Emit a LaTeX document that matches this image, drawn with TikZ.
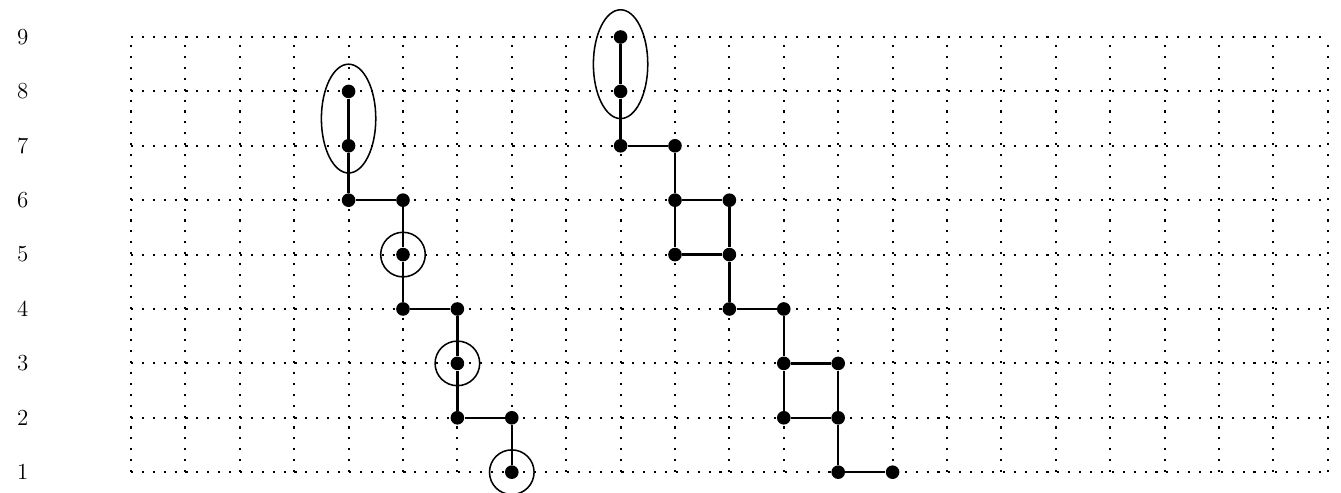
\documentclass[tikz,border=0pt]{standalone}
\usetikzlibrary{positioning}
\tikzset{
  gridline/.style={line width=1.1pt, dash pattern=on 1.1pt off 4.6pt},
  vertex/.style={circle, fill, inner sep=0pt, minimum size=0.25cm},
  edge/.style={line width=1.2pt},
  ring/.style={line width=0.8pt},
  rowlabel/.style={font=\large},
}
\begin{document}
\begin{tikzpicture}
  \useasboundingbox (-2.408,0.632) rectangle (22.243,9.68);

  % dotted grid and row numbers
  \foreach \y in {1,...,9} {
    \draw[gridline] (0,\y) -- (22,\y);
    \node[rowlabel] (row\y) at (-1.99,\y) {\y};
  }
  \foreach \x in {0,...,22}
    \draw[gridline] (\x,1) -- (\x,9);

  % vertices
  \foreach \x/\y in {4/8,4/7,4/6,5/6,5/5,5/4,6/4,6/3,6/2,7/2,7/1,
                     9/9,9/8,9/7,10/7,10/6,11/6,10/5,11/5,11/4,12/4,
                     12/3,13/3,12/2,13/2,13/1,14/1}
    \node[vertex] (n\x-\y) at (\x,\y) {};

  % left path
  \draw[edge] (n4-8) -- (n4-7) -- (n4-6) -- (n5-6) -- (n5-5) -- (n5-4)
    -- (n6-4) -- (n6-3) -- (n6-2) -- (n7-2) -- (n7-1);

  % right path
  \draw[edge] (n9-9) -- (n9-8) -- (n9-7) -- (n10-7) -- (n10-6) -- (n10-5);
  \draw[edge] (n10-6) -- (n11-6) -- (n11-5) -- (n10-5);
  \draw[edge] (n11-5) -- (n11-4) -- (n12-4) -- (n12-3) -- (n12-2);
  \draw[edge] (n12-3) -- (n13-3) -- (n13-2) -- (n12-2);
  \draw[edge] (n13-2) -- (n13-1) -- (n14-1);

  % marked groups
  \draw[ring] (4,7.5) ellipse (0.5 and 1.0);
  \draw[ring] (9,8.5) ellipse (0.5 and 1.0);
  \draw[ring] (n5-5) circle (0.41);
  \draw[ring] (n6-3) circle (0.41);
  \draw[ring] (n7-1) circle (0.41);
\end{tikzpicture}
\end{document}
